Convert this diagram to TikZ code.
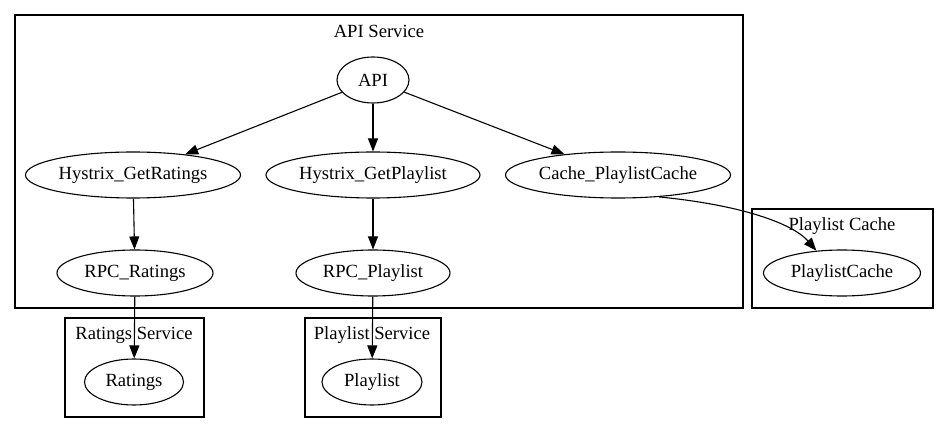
\documentclass[tikz,border=0pt]{standalone}
\usepackage{fontspec}
\setmainfont{Liberation Serif}
\usetikzlibrary{shapes.geometric, arrows.meta, positioning, calc}

\tikzset{
  svc/.style={ellipse, draw, line width=1.1pt, inner sep=0pt, minimum height=46pt, font=\fontsize{18.6}{21}\selectfont},
  clusterbox/.style={draw, line width=1.1pt},
  clusterlabel/.style={font=\fontsize{18.6}{21}\selectfont},
  edge/.style={line width=1.1pt, -{Triangle[length=13pt,width=10pt]}}
}

\begin{document}
\begin{tikzpicture}[x=1pt, y=-1pt]
        \useasboundingbox (0,0) rectangle (948,435);

        % Clusters
        \draw[clusterbox] (15,15) rectangle (743,308);
        \node[clusterlabel] (apilabel) at (379,31) {API Service};
        \draw[clusterbox] (752,209) rectangle (933,308);
        \node[clusterlabel] (cachelabel) at (842,226) {Playlist Cache};
        \draw[clusterbox] (65,318) rectangle (204,417);
        \node[clusterlabel] (ratingslabel) at (134,335) {Ratings Service};
        \draw[clusterbox] (305,318) rectangle (441,417);
        \node[clusterlabel] (playlistlabel) at (372,335) {Playlist Service};

        % Nodes
        \node[svc, minimum width=72pt] (api) at (373,80) {API};
        \node[svc, minimum width=215pt] (hgetratings) at (133,175) {Hystrix\_GetRatings};
        \node[svc, minimum width=214pt] (hgetplaylist) at (373,175) {Hystrix\_GetPlaylist};
        \node[svc, minimum width=225pt] (cacheplaylist) at (618,175) {Cache\_PlaylistCache};
        \node[svc, minimum width=156pt] (rpcratings) at (135,273) {RPC\_Ratings};
        \node[svc, minimum width=154pt] (rpcplaylist) at (373,273) {RPC\_Playlist};
        \node[svc, minimum width=157pt] (playlistcache) at (842,273) {PlaylistCache};
        \node[svc, minimum width=99pt] (ratings) at (134,382) {Ratings};
        \node[svc, minimum width=100pt] (playlist) at (372,382) {Playlist};

        % Edges
        \draw[edge] (api) -- (hgetratings);
        \draw[edge] (api) -- (hgetplaylist);
        \draw[edge] (api) -- (cacheplaylist);
        \draw[edge] (hgetratings) -- (rpcratings);
        \draw[edge] (hgetplaylist) -- (rpcplaylist);
        \draw[edge] (rpcratings) -- (ratings);
        \draw[edge] (rpcplaylist) -- (playlist);
        \draw[edge] (cacheplaylist.-28) .. controls (750,206) and (795,226) .. (playlistcache.139);
    \end{tikzpicture}
\end{document}
